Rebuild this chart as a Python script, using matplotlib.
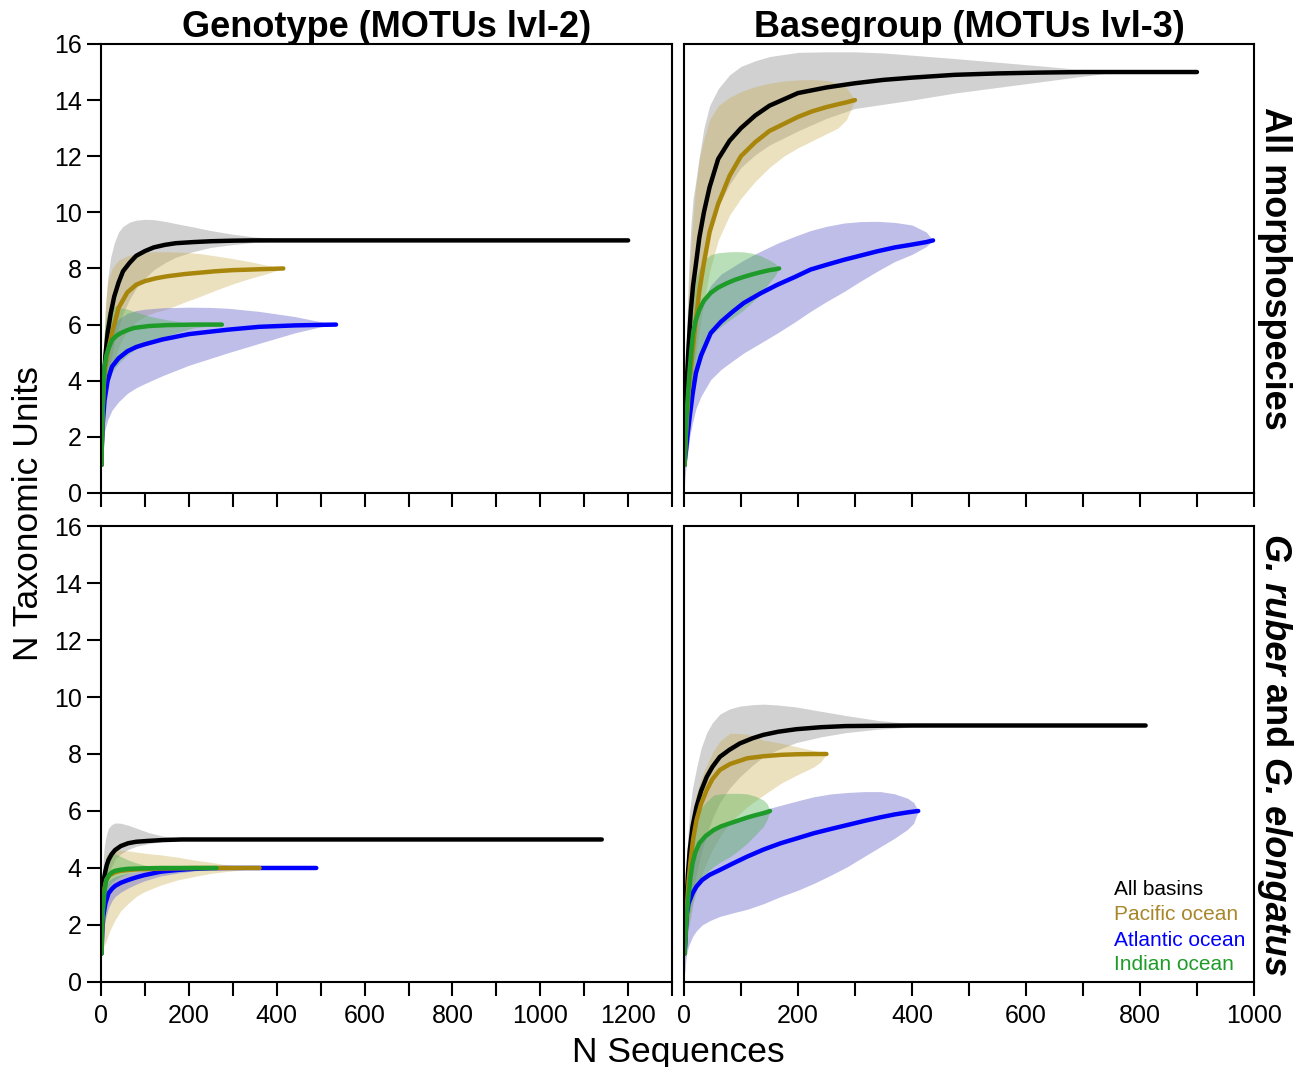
import matplotlib
matplotlib.use("Agg")
import matplotlib.pyplot as plt
from matplotlib.ticker import MultipleLocator, FuncFormatter

plt.rcParams['font.family'] = ['Liberation Sans', 'DejaVu Sans']

# ---- data: x = N sequences, y = N taxonomic units ----
# A: Genotype (lvl-2), all morphospecies
A_all_x = [1, 3, 6, 10, 15, 22, 30, 40, 50, 65, 80, 100, 120, 145, 170, 210, 250, 300, 350, 450, 700, 1000, 1200]
A_all_y = [1, 2.8, 4.0, 4.9, 5.7, 6.4, 7.0, 7.5, 7.9, 8.2, 8.45, 8.62, 8.75, 8.84, 8.9, 8.94, 8.97, 8.99, 9.0, 9, 9, 9, 9]
A_all_lo = [1, 2.0, 2.9, 3.5, 4.0, 4.7, 5.3, 5.9, 6.4, 6.9, 7.3, 7.65, 7.95, 8.2, 8.4, 8.6, 8.75, 8.85, 8.93, 9, 9, 9, 9]
A_all_hi = [1, 3.8, 5.2, 6.5, 7.6, 8.4, 8.9, 9.3, 9.5, 9.65, 9.72, 9.75, 9.74, 9.68, 9.6, 9.48, 9.35, 9.22, 9.12, 9.02, 9, 9, 9]

A_pac_x = [1, 3, 6, 10, 15, 25, 40, 60, 80, 100, 125, 150, 190, 225, 260, 300, 340, 375, 415]
A_pac_y = [1, 2.6, 3.8, 4.5, 5.0, 5.7, 6.6, 7.15, 7.42, 7.55, 7.65, 7.72, 7.8, 7.85, 7.9, 7.94, 7.96, 7.98, 8.0]
A_pac_lo = [1, 1.9, 2.7, 3.3, 3.8, 4.5, 5.2, 5.8, 6.1, 6.3, 6.45, 6.55, 6.8, 7.0, 7.22, 7.45, 7.65, 7.8, 8.0]
A_pac_hi = [1, 3.6, 5.2, 6.8, 7.5, 8.0, 8.3, 8.45, 8.53, 8.58, 8.6, 8.6, 8.57, 8.53, 8.45, 8.35, 8.24, 8.12, 8.0]

A_atl_x = [1, 2, 4, 8, 15, 25, 40, 60, 80, 100, 140, 200, 250, 290, 360, 440, 500, 535]
A_atl_y = [1, 1.8, 2.5, 3.3, 4.0, 4.5, 4.8, 5.05, 5.2, 5.3, 5.47, 5.66, 5.75, 5.82, 5.92, 5.97, 5.99, 6.0]
A_atl_lo = [1, 1.2, 1.5, 2.2, 2.6, 2.95, 3.25, 3.55, 3.75, 3.9, 4.18, 4.55, 4.8, 5.0, 5.33, 5.7, 5.92, 6.0]
A_atl_hi = [1, 2.4, 3.5, 4.6, 5.4, 5.9, 6.2, 6.4, 6.5, 6.55, 6.6, 6.62, 6.61, 6.58, 6.47, 6.29, 6.1, 6.0]

A_ind_x = [1, 2, 3, 5, 8, 12, 17, 25, 35, 45, 60, 75, 110, 150, 210, 275]
A_ind_y = [1, 1.9, 2.6, 3.6, 4.5, 4.9, 5.15, 5.45, 5.6, 5.7, 5.8, 5.88, 5.95, 5.98, 6.0, 6.0]
A_ind_lo = [1, 1.4, 1.8, 2.5, 3.2, 3.65, 3.95, 4.3, 4.52, 4.7, 4.92, 5.1, 5.4, 5.6, 5.88, 6.0]
A_ind_hi = [1, 2.5, 3.8, 5.0, 5.8, 6.25, 6.5, 6.65, 6.66, 6.6, 6.55, 6.47, 6.3, 6.17, 6.03, 6.0]

# B: Basegroup (lvl-3), all morphospecies
B_all_x = [1, 3, 5, 8, 12, 16, 20, 27, 35, 45, 60, 80, 100, 125, 150, 200, 250, 300, 350, 400, 475, 550, 625, 700, 760, 900]
B_all_y = [1, 2.8, 4.0, 5.2, 6.5, 7.4, 8.0, 9.1, 10.0, 10.9, 11.9, 12.55, 13.0, 13.45, 13.8, 14.25, 14.45, 14.6, 14.72, 14.8, 14.9, 14.95, 14.98, 15.0, 15.0, 15.0]
B_all_lo = [1, 1.8, 2.5, 3.2, 4.2, 5.2, 6.0, 7.2, 8.2, 9.2, 10.2, 11.0, 11.6, 12.05, 12.4, 12.9, 13.35, 13.7, 13.85, 14.0, 14.25, 14.45, 14.65, 14.85, 15.0, 15.0]
B_all_hi = [1, 3.8, 6.0, 7.8, 9.5, 10.5, 11.0, 12.0, 13.0, 13.8, 14.4, 14.9, 15.2, 15.4, 15.55, 15.7, 15.72, 15.72, 15.68, 15.6, 15.48, 15.35, 15.22, 15.08, 15.0, 15.0]

B_pac_x = [1, 3, 5, 8, 10, 15, 20, 27, 35, 45, 60, 80, 100, 125, 150, 175, 200, 225, 250, 270, 285, 300]
B_pac_y = [1, 1.9, 2.6, 3.5, 4.0, 5.0, 6.0, 7.2, 8.2, 9.3, 10.3, 11.3, 12.0, 12.5, 12.9, 13.15, 13.4, 13.6, 13.75, 13.85, 13.92, 14.0]
B_pac_lo = [1, 1.4, 2.0, 2.6, 3.0, 3.9, 4.8, 5.8, 6.8, 7.9, 9.0, 9.9, 10.5, 11.1, 11.6, 12.0, 12.3, 12.55, 12.8, 13.0, 13.3, 14.0]
B_pac_hi = [1, 3.5, 5.5, 7.2, 8.0, 9.6, 10.8, 11.9, 12.6, 13.3, 13.8, 14.1, 14.3, 14.48, 14.6, 14.68, 14.72, 14.73, 14.7, 14.6, 14.45, 14.0]

B_atl_x = [1, 2, 4, 7, 10, 15, 21, 30, 47, 65, 85, 105, 135, 164, 195, 222, 250, 281, 310, 339, 370, 400, 425, 437]
B_atl_y = [1, 1.25, 1.6, 2.2, 2.7, 3.5, 4.28, 4.9, 5.7, 6.1, 6.45, 6.77, 7.12, 7.42, 7.7, 7.96, 8.13, 8.31, 8.46, 8.61, 8.75, 8.85, 8.94, 9.0]
B_atl_lo = [0.3, 0.6, 1.0, 1.5, 2.0, 2.5, 3.0, 3.45, 4.04, 4.4, 4.7, 4.99, 5.35, 5.7, 6.1, 6.47, 6.82, 7.18, 7.55, 7.9, 8.25, 8.5, 8.78, 9.0]
B_atl_hi = [1, 2.0, 3.0, 3.9, 4.6, 5.4, 6.0, 6.7, 7.4, 7.8, 8.05, 8.3, 8.62, 8.9, 9.15, 9.35, 9.5, 9.62, 9.67, 9.68, 9.64, 9.55, 9.3, 9.0]

B_ind_x = [1, 2, 3, 4, 6, 8, 10, 13, 16, 20, 27, 35, 47, 60, 76, 90, 105, 120, 135, 150, 160, 167]
B_ind_y = [1, 1.5, 2.0, 2.5, 3.2, 3.8, 4.4, 5.1, 5.7, 6.1, 6.53, 6.85, 7.13, 7.32, 7.48, 7.6, 7.7, 7.79, 7.87, 7.94, 7.97, 8.0]
B_ind_lo = [1, 1.15, 1.3, 1.6, 2.0, 2.4, 2.8, 3.2, 3.6, 4.0, 4.5, 5.0, 5.6, 5.85, 6.1, 6.3, 6.53, 6.8, 7.1, 7.5, 7.75, 8.0]
B_ind_hi = [1, 2.0, 3.0, 3.9, 4.8, 5.5, 6.2, 6.8, 7.2, 7.6, 8.0, 8.3, 8.49, 8.56, 8.59, 8.6, 8.59, 8.54, 8.45, 8.3, 8.18, 8.0]

# C: Genotype (lvl-2), G. ruber and G. elongatus
C_all_x = [1, 2, 3, 5, 7, 10, 13, 17, 24, 32, 45, 62, 80, 107, 140, 183, 400, 800, 1140]
C_all_y = [1, 2.0, 2.6, 3.34, 3.65, 3.9, 4.1, 4.28, 4.48, 4.63, 4.77, 4.87, 4.92, 4.95, 4.98, 5.0, 5, 5, 5]
C_all_lo = [1, 1.6, 2.0, 2.7, 3.0, 3.3, 3.55, 3.8, 4.05, 4.3, 4.5, 4.65, 4.76, 4.85, 4.93, 4.98, 5, 5, 5]
C_all_hi = [1, 2.6, 3.5, 4.3, 4.7, 5.0, 5.2, 5.4, 5.52, 5.58, 5.57, 5.5, 5.4, 5.25, 5.12, 5.04, 5, 5, 5]

C_pac_x = [1, 3, 5, 8, 12, 20, 32, 45, 62, 80, 99, 136, 174, 212, 250, 288, 326, 361]
C_pac_y = [1, 2.2, 2.88, 3.3, 3.58, 3.75, 3.85, 3.9, 3.93, 3.95, 3.96, 3.98, 3.99, 4.0, 4.0, 4.0, 4.0, 4.0]
C_pac_lo = [1, 1.1, 1.2, 1.3, 1.45, 1.8, 2.18, 2.5, 2.76, 3.0, 3.17, 3.4, 3.58, 3.7, 3.81, 3.88, 3.94, 4.0]
C_pac_hi = [1, 3.0, 3.8, 4.2, 4.45, 4.58, 4.63, 4.62, 4.6, 4.56, 4.52, 4.46, 4.38, 4.28, 4.2, 4.1, 4.04, 4.0]

C_atl_x = [1, 3, 5, 10, 17, 25, 32, 45, 62, 80, 99, 136, 174, 212, 250, 288, 400, 490]
C_atl_y = [1, 1.8, 2.3, 2.76, 3.11, 3.27, 3.37, 3.48, 3.58, 3.67, 3.75, 3.87, 3.93, 3.97, 3.99, 4.0, 4.0, 4.0]
C_atl_lo = [1, 1.4, 1.7, 2.2, 2.6, 2.85, 3.0, 3.15, 3.3, 3.43, 3.55, 3.72, 3.82, 3.9, 3.95, 3.98, 4.0, 4.0]
C_atl_hi = [1, 2.3, 2.9, 3.3, 3.55, 3.64, 3.7, 3.76, 3.82, 3.87, 3.92, 3.97, 3.99, 4.0, 4.0, 4.0, 4.0, 4.0]

C_ind_x = [1, 2, 3, 5, 8, 12, 18, 25, 32, 45, 62, 80, 99, 136, 200, 263]
C_ind_y = [1, 1.7, 2.2, 2.64, 3.2, 3.58, 3.75, 3.85, 3.9, 3.94, 3.97, 3.98, 3.99, 4.0, 4.0, 4.0]
C_ind_lo = [1, 1.4, 1.7, 2.0, 2.6, 3.1, 3.35, 3.5, 3.58, 3.7, 3.81, 3.88, 3.93, 3.98, 4.0, 4.0]
C_ind_hi = [1, 2.2, 2.9, 3.6, 4.1, 4.4, 4.5, 4.52, 4.5, 4.4, 4.28, 4.18, 4.1, 4.02, 4.0, 4.0]

# D: Basegroup (lvl-3), G. ruber and G. elongatus
D_all_x = [1, 3, 5, 7, 10, 15, 22, 30, 40, 50, 63, 80, 98, 120, 139, 165, 197, 240, 284, 340, 401, 600, 810]
D_all_y = [1, 2.1, 3.0, 3.8, 4.6, 5.45, 6.15, 6.7, 7.2, 7.55, 7.9, 8.15, 8.37, 8.55, 8.67, 8.78, 8.87, 8.94, 8.98, 8.99, 9.0, 9.0, 9.0]
D_all_lo = [1, 1.4, 1.8, 2.1, 2.5, 3.1, 3.8, 4.5, 5.2, 5.75, 6.3, 6.8, 7.2, 7.6, 7.9, 8.15, 8.4, 8.6, 8.75, 8.87, 8.95, 9.0, 9.0]
D_all_hi = [1, 3.0, 4.5, 5.2, 6.0, 6.8, 7.5, 8.2, 8.75, 9.1, 9.4, 9.58, 9.68, 9.73, 9.75, 9.72, 9.65, 9.5, 9.35, 9.18, 9.06, 9.0, 9.0]

D_pac_x = [1, 3, 5, 8, 11, 16, 22, 30, 40, 50, 63, 81, 111, 139, 170, 197, 228, 240, 250]
D_pac_y = [1, 1.9, 2.6, 3.5, 4.16, 5.0, 5.68, 6.25, 6.74, 7.12, 7.44, 7.65, 7.85, 7.92, 7.97, 7.99, 8.0, 8.0, 8.0]
D_pac_lo = [1, 1.25, 1.5, 1.85, 2.18, 2.7, 3.2, 3.7, 4.2, 4.65, 5.1, 5.6, 6.15, 6.55, 6.97, 7.25, 7.55, 7.72, 8.0]
D_pac_hi = [1, 2.8, 3.8, 4.6, 5.3, 6.0, 6.6, 7.15, 7.6, 8.05, 8.45, 8.73, 8.7, 8.49, 8.38, 8.26, 8.12, 8.06, 8.0]

D_atl_x = [1, 2, 3, 5, 8, 15, 22, 32, 45, 63, 85, 111, 140, 170, 200, 228, 258, 287, 316, 345, 370, 392, 403, 411]
D_atl_y = [1, 1.24, 1.7, 2.4, 2.75, 3.11, 3.35, 3.58, 3.76, 3.93, 4.15, 4.4, 4.65, 4.87, 5.05, 5.22, 5.37, 5.51, 5.65, 5.78, 5.88, 5.95, 5.98, 6.0]
D_atl_lo = [0.3, 0.42, 0.7, 1.0, 1.25, 1.59, 1.8, 2.0, 2.15, 2.3, 2.42, 2.55, 2.75, 3.0, 3.22, 3.46, 3.75, 4.05, 4.4, 4.75, 5.05, 5.35, 5.57, 6.0]
D_atl_hi = [1, 1.8, 2.6, 3.5, 4.0, 4.5, 4.8, 5.1, 5.3, 5.5, 5.68, 5.85, 6.04, 6.2, 6.36, 6.5, 6.6, 6.65, 6.68, 6.68, 6.6, 6.45, 6.3, 6.0]

D_ind_x = [1, 3, 5, 8, 11, 15, 20, 27, 38, 52, 65, 81, 96, 111, 125, 139, 146, 151]
D_ind_y = [1, 1.8, 2.4, 3.0, 3.6, 4.16, 4.55, 4.87, 5.12, 5.33, 5.46, 5.57, 5.67, 5.77, 5.85, 5.92, 5.96, 6.0]
D_ind_lo = [1, 1.3, 1.6, 2.0, 2.4, 2.8, 3.15, 3.5, 3.8, 4.05, 4.22, 4.4, 4.62, 4.87, 5.15, 5.45, 5.7, 6.0]
D_ind_hi = [1, 2.6, 3.6, 4.4, 5.0, 5.4, 5.7, 6.0, 6.3, 6.56, 6.6, 6.62, 6.62, 6.6, 6.52, 6.39, 6.25, 6.0]

col_titles = ["Genotype (MOTUs lvl-2)", "Basegroup (MOTUs lvl-3)"]
legend_labels = ["All basins", "Pacific ocean", "Atlantic ocean", "Indian ocean"]

line_colors = ['black', '#A8860C', '#0000FF', '#1E9B28']
fill_colors = ['#A0A0A0', '#C8AA48', '#7070D0', '#50B050']
fill_alpha = [0.48, 0.35, 0.45, 0.4]
text_colors = ['black', '#A8862A', '#0000FF', '#1E9B28']

panels = [
    [(A_all_x, A_all_y, A_all_lo, A_all_hi), (A_pac_x, A_pac_y, A_pac_lo, A_pac_hi),
     (A_atl_x, A_atl_y, A_atl_lo, A_atl_hi), (A_ind_x, A_ind_y, A_ind_lo, A_ind_hi)],
    [(B_all_x, B_all_y, B_all_lo, B_all_hi), (B_pac_x, B_pac_y, B_pac_lo, B_pac_hi),
     (B_atl_x, B_atl_y, B_atl_lo, B_atl_hi), (B_ind_x, B_ind_y, B_ind_lo, B_ind_hi)],
    [(C_all_x, C_all_y, C_all_lo, C_all_hi), (C_pac_x, C_pac_y, C_pac_lo, C_pac_hi),
     (C_atl_x, C_atl_y, C_atl_lo, C_atl_hi), (C_ind_x, C_ind_y, C_ind_lo, C_ind_hi)],
    [(D_all_x, D_all_y, D_all_lo, D_all_hi), (D_pac_x, D_pac_y, D_pac_lo, D_pac_hi),
     (D_atl_x, D_atl_y, D_atl_lo, D_atl_hi), (D_ind_x, D_ind_y, D_ind_lo, D_ind_hi)],
]

fig = plt.figure(figsize=(13.07, 10.67), dpi=100)

col_left = [0.0773, 0.5233]
col_width = [0.4369, 0.4361]
row_bottom = [0.538, 0.0797]
row_height = [0.4208, 0.4273]
xmax = [1300, 1000]

axes = []
for i, series in enumerate(panels):
    r, c = divmod(i, 2)
    ax = fig.add_axes([col_left[c], row_bottom[r], col_width[c], row_height[r]])
    axes.append(ax)
    # bands first, then lines
    for k, (x, y, lo, hi) in enumerate(series):
        ax.fill_between(x, lo, hi, color=fill_colors[k], alpha=fill_alpha[k], lw=0)
    for k in [0, 2, 1, 3]:
        x, y, lo, hi = series[k]
        ax.plot(x, y, color=line_colors[k], lw=3.2, solid_capstyle='round',
                solid_joinstyle='round')

    ax.set_xlim(0, xmax[c])
    ax.set_ylim(0, 16)
    ax.xaxis.set_major_locator(MultipleLocator(100))
    ax.xaxis.set_major_formatter(FuncFormatter(lambda v, p: "%d" % v if v % 200 == 0 else ""))
    ax.yaxis.set_major_locator(MultipleLocator(2))
    ax.tick_params(direction='out', length=10, width=1.5, labelsize=18, pad=4)
    ax.tick_params(axis='x', pad=6)
    for s in ax.spines.values():
        s.set_linewidth(1.5)
    if c == 1:
        ax.tick_params(axis='y', left=False, labelleft=False)
    if r == 0:
        ax.tick_params(axis='x', labelbottom=False)

# column titles
for c in range(2):
    fig.text(col_left[c] + col_width[c] / 2, 1 - 37 / 1067, col_titles[c],
             ha='center', va='baseline', fontsize=26, fontweight='bold')

# axis labels
fig.text(0.5188, 1 - 1062 / 1067, "N Sequences", ha='center', va='baseline', fontsize=25.5)
fig.text(0.022, 0.5187, "N Taxonomic Units", ha='center', va='center', rotation=90, fontsize=25.5)

# row labels
fig.text(0.9755, 0.7488, "All morphospecies", ha='center', va='center', rotation=-90,
         fontsize=26, fontweight='bold')

parts = [("G. ruber", 'italic'), ("and", 'normal'), ("G. elongatus", 'italic')]
fig.canvas.draw()
renderer = fig.canvas.get_renderer()
ytop = 1 - 534 / 1067
gap = 9 / 1067
for txt, style in parts:
    t = fig.text(0.9755, ytop, txt, ha='center', va='top', rotation=-90,
                 fontsize=26, fontweight='bold', fontstyle=style)
    bb = t.get_window_extent(renderer=renderer)
    ytop = bb.y0 / fig.bbox.height - gap

# legend as coloured text
ax = axes[3]
leg_y = [0.1908, 0.136, 0.0796, 0.0263]
for k, lab in enumerate(legend_labels):
    ax.text(0.754, leg_y[k], lab, transform=ax.transAxes, color=text_colors[k],
            fontsize=15, ha='left', va='baseline')

fig.savefig("out.png", dpi=100)
